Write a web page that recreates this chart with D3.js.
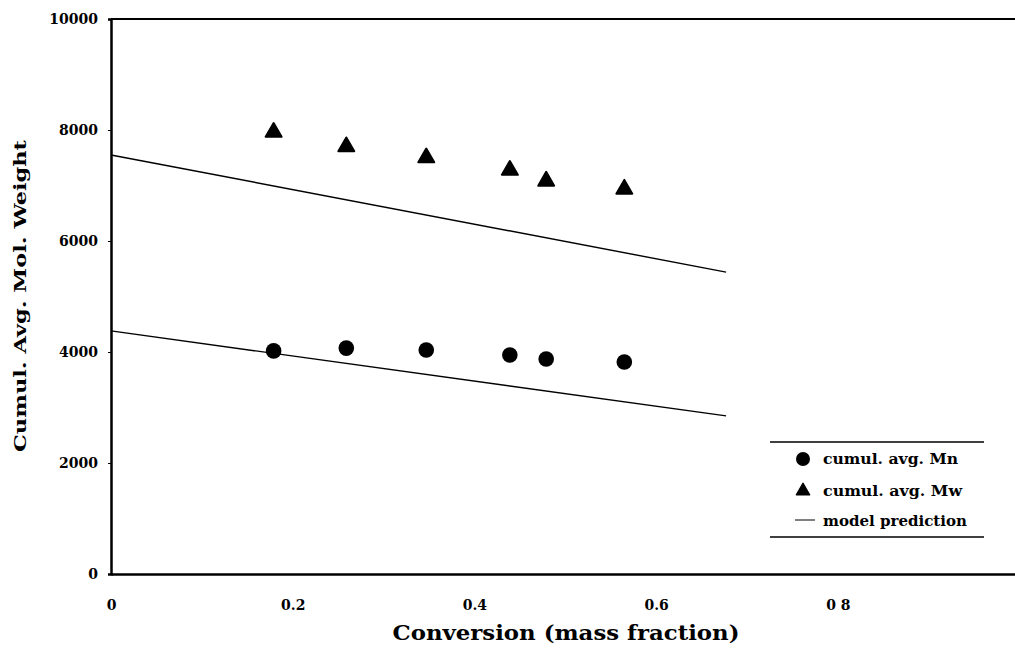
<!DOCTYPE html>
<html>
<head>
<meta charset="utf-8">
<script src="https://cdn.jsdelivr.net/npm/d3@7"></script>
<style>
  html, body { margin: 0; padding: 0; background: #fff; }
  svg { display: block; }
  text { font-family: "DejaVu Serif", "Liberation Serif", serif; font-weight: bold; fill: #000; }
</style>
</head>
<body>
<svg id="chart" width="1015" height="652"></svg>
<script>
// Conversion (mass fraction) at each sample
const conversion = [0.179, 0.259, 0.347, 0.439, 0.479, 0.565];
// Cumulative average molecular weights
const mnValues = [4020, 4070, 4035, 3945, 3875, 3820];
const mwValues = [7960, 7700, 7500, 7275, 7080, 6935];
// Model prediction lines (conversion, value)
const modelX = [0, 0.677];
const modelMw = [7550, 5440];
const modelMn = [4380, 2850];

const yTicks = [0, 2000, 4000, 6000, 8000, 10000];
const xTicks = [0, 0.2, 0.4, 0.6, 0.8];
const xTickLabels = ["0", "0.2", "0.4", "0.6", "0 8"];
const legendLabels = ["cumul. avg. Mn", "cumul. avg. Mw", "model prediction"];

const svg = d3.select("#chart");
const plotLeft = 111, plotRight = 1015, plotTop = 19, plotBottom = 574;

const x = d3.scaleLinear().domain([0, 0.995]).range([plotLeft, plotRight]);
const y = d3.scaleLinear().domain([0, 10000]).range([plotBottom, plotTop]);

// Frame: top border and axes
svg.append("line").attr("x1", plotLeft).attr("x2", plotRight).attr("y1", plotTop).attr("y2", plotTop)
  .attr("stroke", "#000").attr("stroke-width", 2);

const yAxis = d3.axisLeft(y).tickValues(yTicks).tickSize(3).tickFormat(d3.format("d"));
const gy = svg.append("g").attr("transform", `translate(${plotLeft},0)`).call(yAxis);
gy.attr("font-family", null);
gy.select(".domain").attr("stroke-width", 2.5);
gy.selectAll("text").attr("font-size", 14).attr("x", -13).attr("dy", "0.35em");

const xAxis = d3.axisBottom(x).tickValues(xTicks).tickSize(0).tickFormat((d, i) => xTickLabels[i]);
const gx = svg.append("g").attr("transform", `translate(0,${plotBottom})`).call(xAxis);
gx.attr("font-family", null);
gx.select(".domain").attr("stroke-width", 2.5);
gx.selectAll("text").attr("font-size", 14).attr("y", 31).attr("dy", "0.35em");

// Model prediction lines
const line = d3.line().x(d => x(d[0])).y(d => y(d[1]));
[modelMw, modelMn].forEach(vals => {
  svg.append("path").datum(modelX.map((c, i) => [c, vals[i]]))
    .attr("d", line).attr("fill", "none").attr("stroke", "#000").attr("stroke-width", 1.4);
});

// Mw triangles
const tri = d3.symbol().type(d3.symbolTriangle).size(110);
svg.selectAll(".mw").data(conversion).enter().append("path")
  .attr("d", tri)
  .attr("transform", (d, i) => `translate(${x(d)},${y(mwValues[i])})`)
  .attr("fill", "#000").attr("stroke", "#000").attr("stroke-linejoin", "round").attr("stroke-width", 2);

// Mn circles
svg.selectAll(".mn").data(conversion).enter().append("circle")
  .attr("cx", d => x(d)).attr("cy", (d, i) => y(mnValues[i])).attr("r", 7.8).attr("fill", "#000");

// Legend
const lg = svg.append("g");
lg.append("line").attr("x1", 770).attr("x2", 984).attr("y1", 442).attr("y2", 442).attr("stroke", "#000").attr("stroke-width", 1.3);
lg.append("line").attr("x1", 770).attr("x2", 984).attr("y1", 537).attr("y2", 537).attr("stroke", "#000").attr("stroke-width", 1.3);
lg.append("circle").attr("cx", 803).attr("cy", 459).attr("r", 7).attr("fill", "#000");
lg.append("path").attr("d", d3.symbol().type(d3.symbolTriangle).size(75))
  .attr("transform", "translate(803,491)").attr("fill", "#000").attr("stroke", "#000")
  .attr("stroke-linejoin", "round").attr("stroke-width", 1.5);
lg.append("line").attr("x1", 795).attr("x2", 815).attr("y1", 520).attr("y2", 520).attr("stroke", "#000").attr("stroke-width", 1);
const legendY = [459, 491, 521];
const legendW = [135, 139, 144];
legendLabels.forEach((t, i) => {
  lg.append("text").attr("x", 823).attr("y", legendY[i]).attr("dy", "0.35em")
    .attr("font-size", 14).attr("textLength", legendW[i]).attr("lengthAdjust", "spacingAndGlyphs").text(t);
});

// Axis titles
svg.append("text").attr("transform", "translate(20,296) rotate(-90)").attr("text-anchor", "middle")
  .attr("dy", "0.35em").attr("font-size", 17).attr("textLength", 312).attr("lengthAdjust", "spacingAndGlyphs")
  .text("Cumul. Avg. Mol. Weight");
svg.append("text").attr("x", 566).attr("y", 633).attr("text-anchor", "middle").attr("dy", "0.35em")
  .attr("font-size", 21).attr("textLength", 347).attr("lengthAdjust", "spacingAndGlyphs")
  .text("Conversion (mass fraction)");
</script>
</body>
</html>
